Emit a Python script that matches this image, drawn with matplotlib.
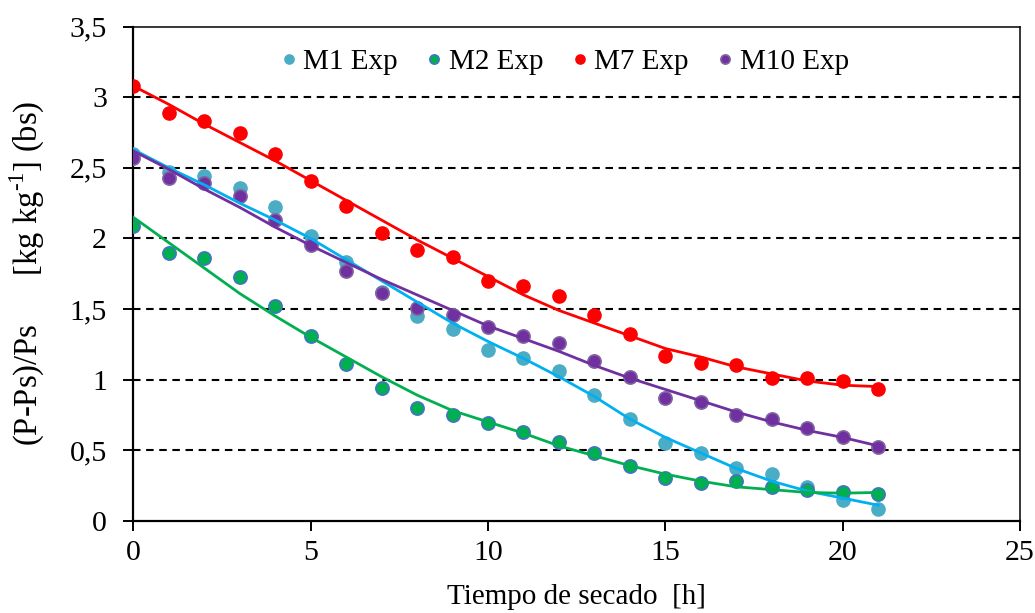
import matplotlib
matplotlib.use("Agg")
import matplotlib.pyplot as plt
from matplotlib.ticker import FixedLocator

plt.rcParams["font.family"] = ["Liberation Serif", "DejaVu Serif"]
plt.rcParams["mathtext.fontset"] = "custom"
plt.rcParams["mathtext.rm"] = "Liberation Serif"

# tiempo de secado [h]
hours = list(range(22))

# datos experimentales
m1_exp = [2.60, 2.47, 2.44, 2.36, 2.22, 2.02, 1.83, 1.62, 1.45, 1.36, 1.21,
          1.15, 1.06, 0.89, 0.72, 0.55, 0.48, 0.37, 0.33, 0.24, 0.15, 0.08]
m2_exp = [2.09, 1.90, 1.86, 1.73, 1.52, 1.31, 1.11, 0.94, 0.80, 0.75, 0.69,
          0.63, 0.56, 0.48, 0.39, 0.30, 0.27, 0.28, 0.24, 0.22, 0.20, 0.19]
m7_exp = [3.08, 2.89, 2.83, 2.75, 2.60, 2.41, 2.23, 2.04, 1.92, 1.87, 1.70,
          1.66, 1.59, 1.46, 1.32, 1.17, 1.12, 1.10, 1.01, 1.01, 0.99, 0.93]
m10_exp = [2.57, 2.43, 2.39, 2.30, 2.13, 1.95, 1.77, 1.61, 1.51, 1.46, 1.37,
           1.31, 1.26, 1.13, 1.02, 0.87, 0.84, 0.75, 0.72, 0.66, 0.59, 0.52]

# curvas del modelo
m1_mod = [2.63, 2.50, 2.38, 2.25, 2.13, 2.00, 1.85, 1.70, 1.55, 1.40, 1.27,
          1.15, 1.02, 0.88, 0.72, 0.59, 0.48, 0.37, 0.28, 0.21, 0.16, 0.11]
m2_mod = [2.15, 1.97, 1.79, 1.61, 1.45, 1.30, 1.16, 1.02, 0.89, 0.78, 0.70,
          0.62, 0.53, 0.46, 0.39, 0.33, 0.28, 0.24, 0.22, 0.20, 0.195, 0.20]
m7_mod = [3.08, 2.95, 2.81, 2.68, 2.55, 2.41, 2.27, 2.13, 1.99, 1.86, 1.73,
          1.60, 1.49, 1.40, 1.31, 1.22, 1.16, 1.09, 1.04, 0.99, 0.96, 0.95]
m10_mod = [2.62, 2.49, 2.35, 2.22, 2.08, 1.95, 1.83, 1.71, 1.60, 1.49, 1.38,
           1.29, 1.20, 1.10, 1.01, 0.93, 0.85, 0.77, 0.70, 0.64, 0.59, 0.53]

y_ticks = [0, 0.5, 1, 1.5, 2, 2.5, 3, 3.5]
y_labels = ["0", "0,5", "1", "1,5", "2", "2,5", "3", "3,5"]
x_ticks = [0, 5, 10, 15, 20, 25]

fig = plt.figure(figsize=(10.35, 6.13), dpi=100)
ax = fig.add_axes([0.1288, 0.1506, 0.8567, 0.8058])

# lineas de division horizontales
for yv in y_ticks[1:-1]:
    ax.axhline(yv, color="black", linestyle=(0, (3.6, 2.7)), linewidth=1.5, zorder=1)

ms = 9.5
ax.plot(hours, m1_exp, "o", color="#4BACC6", mec="#4BACC6", ms=ms, label="M1 Exp", zorder=3)
ax.plot(hours, m2_exp, "o", color="#00B050", mec="#4472C4", mew=1.2, ms=ms, label="M2 Exp", zorder=3)
ax.plot(hours, m7_exp, "o", color="#FF0000", mec="#FF0000", ms=ms, label="M7 Exp", zorder=3)
ax.plot(hours, m10_exp, "o", color="#7030A0", mec="#8064A2", mew=1.2, ms=ms, label="M10 Exp", zorder=3)

ax.plot(hours, m1_mod, color="#00B0F0", linewidth=2.0, zorder=4)
ax.plot(hours, m2_mod, color="#00B050", linewidth=2.0, zorder=4)
ax.plot(hours, m7_mod, color="#FF0000", linewidth=2.0, zorder=4)
ax.plot(hours, m10_mod, color="#7030A0", linewidth=2.0, zorder=4)

ax.set_xlim(0, 25)
ax.set_ylim(0, 3.5)
ax.xaxis.set_major_locator(FixedLocator(x_ticks))
ax.set_yticks(y_ticks)
ax.set_yticklabels(y_labels)
ax.tick_params(axis="both", direction="out", length=7, width=1.4, labelsize=21.5)
ax.tick_params(axis="y", pad=12)
ax.tick_params(axis="x", pad=7)

for side in ["left", "bottom"]:
    ax.spines[side].set_linewidth(1.6)
for side in ["top", "right"]:
    ax.spines[side].set_linewidth(1.1)

ax.set_xlabel("Tiempo de secado  [h]", fontsize=21, labelpad=13)
ax.set_ylabel("(P-Ps)/Ps      [kg kg$^{\\mathregular{\u20101}}$] (bs)", fontsize=23.5)
ax.yaxis.set_label_coords(-0.097, 0.5)

leg = ax.legend(loc="center", bbox_to_anchor=(0.487, 0.928), ncol=4, frameon=False,
                fontsize=21, handlelength=0.5, handletextpad=0.25, columnspacing=1.0,
                markerscale=0.7)

fig.savefig("out.png", dpi=100)
